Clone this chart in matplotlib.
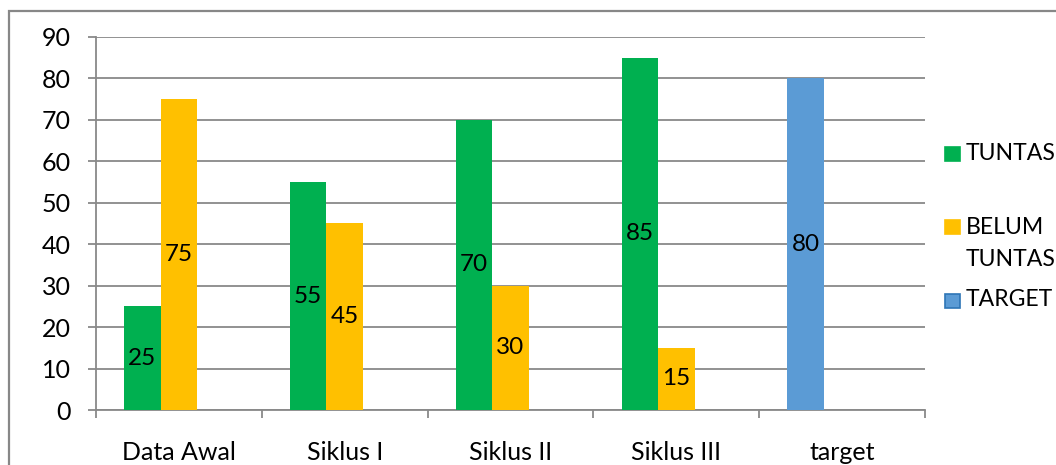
import numpy as np
import matplotlib
matplotlib.use("Agg")
import matplotlib.pyplot as plt
from matplotlib.patches import Rectangle

categories = ["Data Awal", "Siklus I", "Siklus II", "Siklus III", "target"]
tuntas = [25, 55, 70, 85, np.nan]
belum_tuntas = [75, 45, 30, 15, np.nan]
target = [np.nan, np.nan, np.nan, np.nan, 80]
series_names = ["TUNTAS", "BELUM\nTUNTAS", "TARGET"]
yticks = [0, 10, 20, 30, 40, 50, 60, 70, 80, 90]

GREEN = "#00B050"
YELLOW = "#FFC000"
BLUE = "#5B9BD5"
GRID = "#898989"

plt.rcParams["font.family"] = ["Lato", "DejaVu Sans"]

W, H = 1056, 465
fig = plt.figure(figsize=(W / 100, H / 100), dpi=100)
ax = fig.add_axes([96 / W, (H - 410) / H, (925 - 96) / W, (410 - 37) / H])

x = np.arange(len(categories))
bw = 0.22
c1 = ax.bar(x - bw, tuntas, bw, color=GREEN, zorder=3)
c2 = ax.bar(x, belum_tuntas, bw, color=YELLOW, zorder=3)
c3 = ax.bar(x - bw, target, bw, color=BLUE, zorder=3)
for c in (c1, c2, c3):
    labels = ["" if np.isnan(v) else f"{v:.0f}" for v in c.datavalues]
    ax.bar_label(c, labels=labels, label_type="center", fontsize=17.5, color="black")

ax.set_xlim(-0.5, len(categories) - 0.5)
ax.set_ylim(0, 90)
ax.set_yticks(yticks)
ax.set_yticklabels([str(v) for v in yticks])
ax.yaxis.grid(True, color=GRID, linewidth=1.3, zorder=0)
ax.set_axisbelow(True)

ax.set_xticks(x)
ax.set_xticklabels(categories, fontsize=18)
ax.set_xticks(np.arange(len(categories) + 1) - 0.5, minor=True)
ax.tick_params(axis="x", which="major", length=0, pad=22)
ax.tick_params(axis="x", which="minor", length=6, width=1.3, color=GRID)
ax.tick_params(axis="y", length=6, width=1.3, color=GRID, pad=12, labelsize=18)

for s in ("top", "right"):
    ax.spines[s].set_visible(False)
for s in ("left", "bottom"):
    ax.spines[s].set_color(GRID)
    ax.spines[s].set_linewidth(1.3)

# outer chart border (only top and left visible in the crop)
fig.add_artist(Rectangle((8.5 / W, -0.2), 1.2, 1.2 - 11 / H, transform=fig.transFigure,
                         fill=False, edgecolor="#878787", linewidth=1.6))

# legend
leg_colors = [GREEN, YELLOW, BLUE]
leg_edges = [GREEN, YELLOW, "#2E75B6"]
sq_tops = [147, 220, 294]
txt_y = [153, 227, 300]
for col, ec, top, ty, name in zip(leg_colors, leg_edges, sq_tops, txt_y, series_names):
    fig.add_artist(Rectangle((945 / W, (H - top - 14) / H), 15 / W, 14 / H,
                             transform=fig.transFigure, facecolor=col, edgecolor=ec, linewidth=1.2))
    for i, part in enumerate(name.split("\n")):
        fig.text(966 / W, (H - ty - 32 * i) / H, part, fontsize=16.6, va="center", ha="left")

fig.savefig("out.png", dpi=100)
